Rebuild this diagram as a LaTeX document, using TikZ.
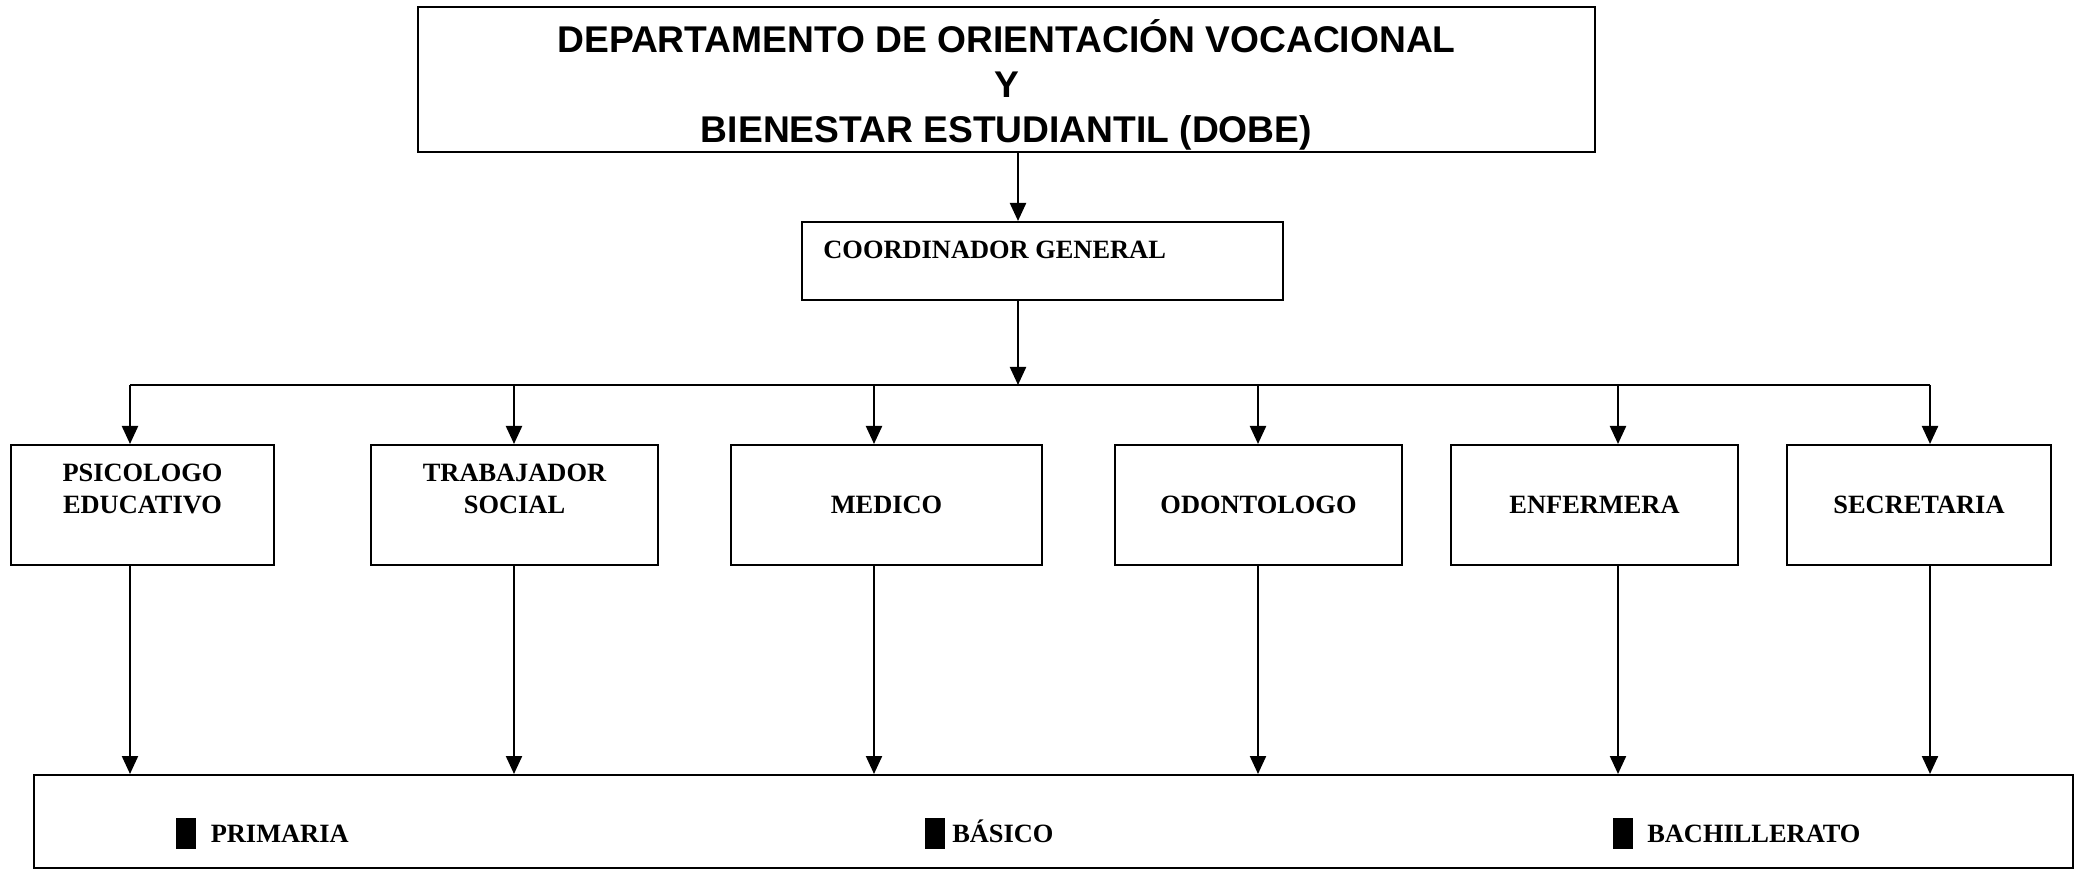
\documentclass[tikz,border=0pt]{standalone}
\usepackage{fontspec}
\setmainfont{Liberation Serif}
\newfontfamily\dobefont{Liberation Sans}
\usetikzlibrary{arrows.meta,positioning,calc}

\begin{document}
\begin{tikzpicture}[x=0.5pt, y=-0.5pt, every node/.style={font=\bfseries\fontsize{13.2pt}{16pt}\selectfont}]
\tikzset{unit/.style={draw, line width=1pt, inner sep=0pt, align=center, minimum height=60pt}}
\tikzset{head/.style={inner sep=0pt, align=center, font=\dobefont\bfseries\fontsize{18.6pt}{22.5pt}\selectfont}}
\tikzset{link/.style={line width=1.1pt, -{Triangle[length=9pt, width=8pt]}}}
\tikzset{lvlbar/.style={fill=black, inner sep=0pt, minimum width=10pt, minimum height=15.5pt}}
\tikzset{lvltext/.style={inner sep=0pt, text height=8.7pt, text depth=0pt}}
\useasboundingbox (0,0) rectangle (2076,870);
% title and coordinator
\node[draw, line width=1pt, minimum width=588.5pt, minimum height=72.5pt] (dobe) at (1006.5,79.5) {};
\node[head] (dobetxt) at ($(dobe.center)+(0,5)$) {DEPARTAMENTO DE ORIENTACIÓN VOCACIONAL\\Y\\BIENESTAR ESTUDIANTIL (DOBE)};
\node[unit, minimum width=240.5pt, minimum height=39pt] (coord) at (1042.5,261) {};
\node[anchor=west, inner sep=0pt] (coordtxt) at ($(coord.west)+(22,-11)$) {COORDINADOR GENERAL};
% staff row
\node[unit, minimum width=131.5pt] (psico) at (142.5,505) {PSICOLOGO\\EDUCATIVO\\\mbox{}};
\node[unit, minimum width=143.5pt] (social) at (514.5,505) {TRABAJADOR\\SOCIAL\\\mbox{}};
\node[unit, minimum width=155.5pt] (medico) at (886.5,505) {MEDICO};
\node[unit, minimum width=143.5pt] (odonto) at (1258.5,505) {ODONTOLOGO};
\node[unit, minimum width=143.5pt] (enferm) at (1594.5,505) {ENFERMERA};
\node[unit, minimum width=132pt] (secre) at (1919,505) {SECRETARIA};
% levels
\node[draw, line width=1pt, inner sep=0pt, minimum width=1019.5pt, minimum height=46.5pt] (niveles) at (1053.5,821.5) {};
\node[lvlbar] (barprim) at (186,833.5) {};
\node[lvltext, right=7pt of barprim] (prim) {PRIMARIA};
\node[lvlbar] (barbas) at (934.5,833.5) {};
\node[lvltext, right=3.5pt of barbas] (basico) {BÁSICO};
\node[lvlbar] (barbach) at (1622.5,833.5) {};
\node[lvltext, right=7pt of barbach] (bach) {BACHILLERATO};
% connectors
\coordinate (hub) at (1018,385);
\foreach \x [count=\i] in {130,514,874,1258,1618,1930}
  \coordinate (t\i) at (\x,385);
\draw[link] (dobe.south -| hub) -- (coord.north -| hub);
\draw[link] (coord.south -| hub) -- (hub);
\draw[line width=1.1pt] (t1) -- (t6);
\foreach \n [count=\i] in {psico,social,medico,odonto,enferm,secre} {
  \draw[link] (t\i) -- (t\i |- \n.north);
  \draw[link] (t\i |- \n.south) -- (t\i |- niveles.north);
}
\end{tikzpicture}
\end{document}
